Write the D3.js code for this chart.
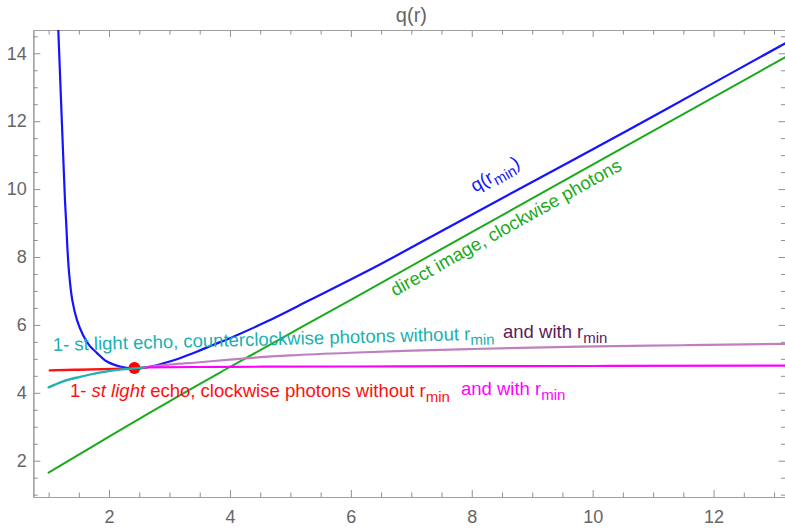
<!DOCTYPE html>
<html><head><meta charset="utf-8">
<script src="https://cdn.jsdelivr.net/npm/d3@7"></script>
<style>
html,body{margin:0;padding:0;background:#fff;}
svg{display:block;font-family:"Liberation Sans",Arial,Helvetica,sans-serif;}
</style></head><body>
<svg id="chart" width="785" height="530"></svg>
<script>
// ---- data (r, q) ----
const qMinCurve = [[1.160,14.71],[1.200,12.87],[1.243,10.91],[1.271,9.67],[1.293,8.94],[1.313,8.21],
  [1.342,7.47],[1.392,6.73],[1.470,6.14],[1.569,5.70],[1.668,5.41],[1.801,5.17],[1.966,4.92],
  [2.181,4.775],[2.40,4.72],[2.62,4.75],[2.90,4.87],[3.17,5.02],[3.45,5.21],[3.72,5.41],[4.00,5.61],
  [4.60,6.09],[5.33,6.74],[6.48,7.78],[7.64,8.90],[9.00,10.21],[10.59,11.74],[11.80,12.93],[13.18,14.29]];
const directImage = [[1.0,1.65],[1.5,2.18],[2.0,2.71],[2.5,3.23],[3.0,3.75],[4.0,4.76],[6.0,6.74],
  [8.0,8.73],[10.0,10.72],[13.18,13.88]];
const ccwNoRmin = [[1.0,4.16],[1.24,4.34],[1.52,4.47],[1.80,4.58],[2.07,4.66],[2.35,4.71],[2.6,4.75]];
const ccwWithRmin = [[2.6,4.75],[3.0,4.83],[3.5,4.90],[4.0,4.98],[5.0,5.10],[6.0,5.18],[7.0,5.24],
  [8.0,5.29],[9.8,5.36],[11.5,5.40],[13.18,5.44]];
const cwNoRmin = [[1.02,4.66],[1.5,4.68],[2.07,4.705],[2.4,4.72],[2.6,4.74]];
const cwWithRmin = [[2.6,4.75],[4.0,4.765],[6.0,4.775],[8.0,4.785],[10.0,4.79],[13.18,4.80]];
const meetPoint = [[2.42,4.73]];
const xTicks = [2,4,6,8,10,12];
const yTicks = [2,4,6,8,10,12,14];
const xMinor = d3.range(1,13.01,0.5).filter(v=>v%2!==0);
const yMinor = d3.range(1,14.51,0.5).filter(v=>v%2!==0);

// ---- layout ----
const svg = d3.select('#chart');
const x = d3.scaleLinear().domain([0.747,13.19]).range([33.3,785.5]);
const y = d3.scaleLinear().domain([0.931,14.686]).range([497,30]);
const [X0,X1] = x.range(), [Y0,Y1] = y.range();
const frameCol = '#a0a0a0', labelCol = '#666';

svg.append('defs').append('clipPath').attr('id','clip')
  .append('rect').attr('x',X0).attr('y',Y1).attr('width',X1-X0).attr('height',Y0-Y1);

function styleAxis(g){
  g.selectAll('.domain').attr('stroke',frameCol).attr('stroke-width',1.2);
  g.selectAll('.tick line').attr('stroke','#909090').attr('stroke-width',1);
  g.selectAll('.tick text').attr('fill',labelCol).style('font-size','18px')
    .style('font-family','"Liberation Sans",Arial,sans-serif');
}
// bottom
svg.append('g').attr('transform',`translate(0,${Y0})`)
  .call(d3.axisBottom(x).tickValues(xTicks).tickSize(-7).tickSizeOuter(0).tickPadding(13).tickFormat(d3.format('d'))).call(styleAxis);
svg.append('g').attr('transform',`translate(0,${Y0})`)
  .call(d3.axisBottom(x).tickValues(xMinor).tickSize(-4.5).tickSizeOuter(0).tickFormat('')).call(styleAxis);
// top
svg.append('g').attr('transform',`translate(0,${Y1})`)
  .call(d3.axisTop(x).tickValues(xTicks).tickSize(-7).tickSizeOuter(0).tickFormat('')).call(styleAxis);
svg.append('g').attr('transform',`translate(0,${Y1})`)
  .call(d3.axisTop(x).tickValues(xMinor).tickSize(-4.5).tickSizeOuter(0).tickFormat('')).call(styleAxis);
// left
svg.append('g').attr('transform',`translate(${X0},0)`)
  .call(d3.axisLeft(y).tickValues(yTicks).tickSize(-7).tickSizeOuter(0).tickPadding(6.5).tickFormat(d3.format('d'))).call(styleAxis);
svg.append('g').attr('transform',`translate(${X0},0)`)
  .call(d3.axisLeft(y).tickValues(yMinor).tickSize(-4.5).tickSizeOuter(0).tickFormat('')).call(styleAxis);
// right
svg.append('g').attr('transform',`translate(${X1},0)`)
  .call(d3.axisRight(y).tickValues(yTicks).tickSize(-7).tickSizeOuter(0).tickFormat('')).call(styleAxis);
svg.append('g').attr('transform',`translate(${X1},0)`)
  .call(d3.axisRight(y).tickValues(yMinor).tickSize(-4.5).tickSizeOuter(0).tickFormat('')).call(styleAxis);

// title
svg.append('text').attr('x',(X0+X1)/2+2).attr('y',22).attr('text-anchor','middle')
  .attr('fill',labelCol).style('font-size','20px').text('q(r)');

// ---- curves ----
const line = d3.line().x(d=>x(d[0])).y(d=>y(d[1])).curve(d3.curveMonotoneX);
const smoothLine = d3.line().x(d=>x(d[0])).y(d=>y(d[1])).curve(d3.curveCatmullRom.alpha(0.5));
const plot = svg.append('g').attr('clip-path','url(#clip)');
const series = [
  {data:directImage, color:'#1aaa1a', w:2, gen:line},
  {data:qMinCurve, color:'#1414ff', w:2.2, gen:smoothLine},
  {data:ccwWithRmin, color:'#bf80bf', w:2.2, gen:line},
  {data:cwWithRmin, color:'#ff00ff', w:2.2, gen:line},
  {data:cwNoRmin, color:'#ff1010', w:2.4, gen:line},
];
series.forEach(s=>plot.append('path').datum(s.data).attr('d',s.gen)
  .attr('fill','none').attr('stroke',s.color).attr('stroke-width',s.w).attr('stroke-linecap','round'));
plot.selectAll('circle.pt').data(meetPoint).join('circle').attr('class','pt')
  .attr('cx',d=>x(d[0])).attr('cy',d=>y(d[1])).attr('r',6).attr('fill','#ff0000');
plot.append('path').datum(ccwNoRmin).attr('d',line).attr('fill','none')
  .attr('stroke','#20b0b0').attr('stroke-width',2.4).attr('stroke-linecap','round');

// ---- annotations ----
function interp(data, r){
  for(let i=1;i<data.length;i++){ if(r<=data[i][0]){const a=data[i-1],b=data[i];
    return a[1]+(b[1]-a[1])*(r-a[0])/(b[0]-a[0]);} }
  return data[data.length-1][1];
}
function pixAngle(data, r){
  const r1=r-0.5, r2=r+0.5;
  return Math.atan2(y(interp(data,r2))-y(interp(data,r1)), x(r2)-x(r1))*180/Math.PI;
}
function label(parts, opts){
  const t = svg.append('text').attr('fill',opts.color).style('font-size','18.5px')
    .attr('text-anchor',opts.anchor||'start')
    .attr('transform',`translate(${x(opts.r)},${y(opts.q)}) rotate(${opts.angle||0})`);
  let lowered=false;
  parts.forEach(p=>{
    const ts=t.append('tspan').text(p.t);
    if(p.sub){ ts.style('font-size','15px').attr('dy',5); lowered=true; }
    else if(lowered){ ts.attr('dy',-5); lowered=false; }
    if(p.it) ts.style('font-style','italic');
  });
  return t;
}
label([{t:'q(r'},{t:'min',sub:true},{t:')'}],
  {r:8.434,q:10.283,color:'#1414ff',anchor:'middle',angle:pixAngle(qMinCurve,8.434)-1});
label([{t:'direct image, clockwise photons'}],
  {r:8.616,q:8.707,color:'#1aaa1a',anchor:'middle',angle:pixAngle(directImage,8.616)});
label([{t:'1- st light echo, counterclockwise photons without r'},{t:'min',sub:true}],
  {r:1.073,q:5.231,color:'#1ab0b0',angle:-1.5});
label([{t:'and with r'},{t:'min',sub:true}],
  {r:8.517,q:5.605,color:'#5a1a5a'});
label([{t:'1- '},{t:'st light',it:true},{t:' echo, clockwise photons without r'},{t:'min',sub:true}],
  {r:1.354,q:3.891,color:'#ff1010'});
label([{t:'and with r'},{t:'min',sub:true}],
  {r:7.822,q:3.935,color:'#ff00ff'});
</script>
</body></html>
